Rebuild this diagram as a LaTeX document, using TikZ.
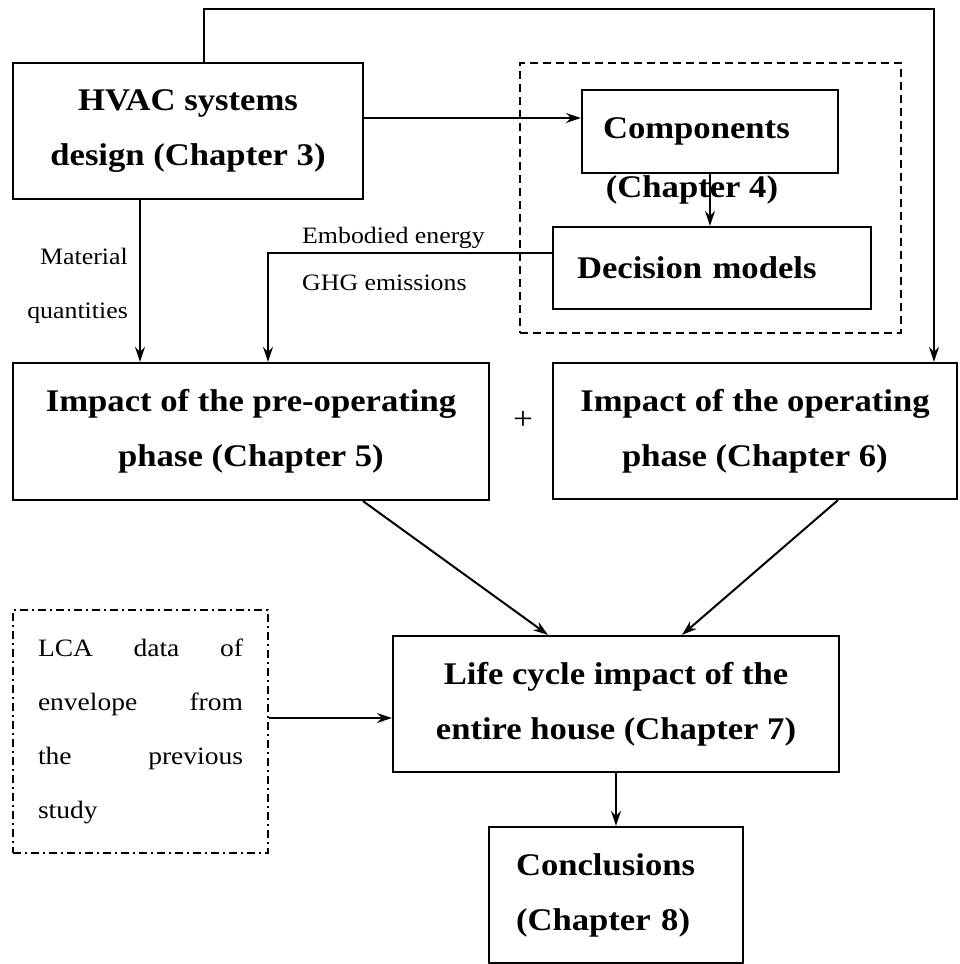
\documentclass[tikz,border=0pt]{standalone}
\usepackage{fontspec}
\setmainfont{Liberation Serif}[FakeStretch=1.1]
\usetikzlibrary{arrows.meta, positioning}

\begin{document}
\begin{tikzpicture}[
            x=1pt, y=-1pt,
            box/.style={draw, line width=2.2pt, inner sep=0pt, align=center,
                font=\fontsize{31.5}{55}\selectfont\bfseries},
            groupbox/.style={draw, line width=2.2pt, inner sep=0pt, dash pattern=on 8pt off 5pt},
            databox/.style={draw, line width=2pt, inner sep=0pt, dash pattern=on 8pt off 4pt on 2pt off 4pt,
                font=\fontsize{25}{54}\selectfont},
            lbl/.style={inner sep=0pt, font=\fontsize{23.5}{54}\selectfont},
            arrow/.style={-{Stealth[length=15pt, width=10pt]}, line width=2pt}
        ]
        \useasboundingbox (0,0) rectangle (959,964);
        % --- (a) Design and decision models ---
        \node[box, minimum width=350pt, minimum height=136pt] (hvac) at (188,131) {HVAC systems\\design (Chapter 3)};
        \node[groupbox, minimum width=381pt, minimum height=270pt] (grp) at (710.5,198) {};
        \node[box, text width=214pt, align=left, minimum width=256pt, minimum height=83pt] (comp) at (710,131.5) {Components};
        \node[inner sep=0pt, font=\fontsize{31.5}{55}\selectfont\bfseries] (ch4) at (692,190) {(Chapter 4)};
        \node[box, text width=270pt, align=left, minimum width=318pt, minimum height=82pt] (dec) at (712,268) {Decision models};
        \coordinate (loop) at (934,9);
        \coordinate (ee) at (268,253);
        \node[lbl, align=right, anchor=east] (mat) at (128,286) {Material\\quantities};
        \node[lbl, anchor=base west] (emb) at (302,243) {Embodied energy};
        \node[lbl, anchor=base west] (ghg) at (302,290) {GHG emissions};
        % --- (b) Impact of the two phases ---
        \node[box, minimum width=476pt, minimum height=137pt] (preop) at (251,431.5) {Impact of the pre-operating\\phase (Chapter 5)};
        \node[box, minimum width=404pt, minimum height=136pt] (op) at (755,431) {Impact of the operating\\phase (Chapter 6)};
        \node[inner sep=0pt, font=\fontsize{32}{32}\selectfont] (plus) at (523,420) {+};
        % --- (c) Life cycle and conclusions ---
        \node[box, minimum width=446pt, minimum height=136pt] (life) at (616,704) {Life cycle impact of the\\entire house (Chapter 7)};
        \node[databox, text width=205pt, align=justify, minimum width=255pt, minimum height=243pt] (lca) at (140.5,731.5)
            {LCA \hfill data \hfill of\\envelope \hfill from\\the \hfill previous\\study};
        \node[box, text width=200pt, align=left, minimum width=254pt, minimum height=136pt] (concl) at (616,895) {Conclusions\\(Chapter 8)};
        \draw[arrow] ([xshift=16pt]hvac.north) |- (loop) -- (loop |- op.north);
        \draw[arrow] ([yshift=13pt]hvac.east) -- ([yshift=13pt]hvac.east -| comp.west);
        \draw[arrow] (comp.south) -- (comp.south |- dec.north);
        \draw[arrow] ([yshift=15pt]dec.west) -- (ee) -- (ee |- preop.north);
        \draw[arrow] ([xshift=-48pt]hvac.south) -- ([xshift=-48pt]hvac.south |- preop.north);
        \draw[arrow] ([xshift=112pt]preop.south) -- ([xshift=-68pt]life.north);
        \draw[arrow] ([xshift=83pt]op.south) -- ([xshift=66pt]life.north);
        \draw[arrow] ([yshift=13.5pt]lca.east) -- ([yshift=13.5pt]lca.east -| life.west);
        \draw[arrow] (life.south) -- (concl.north);
        \end{tikzpicture}
\end{document}
